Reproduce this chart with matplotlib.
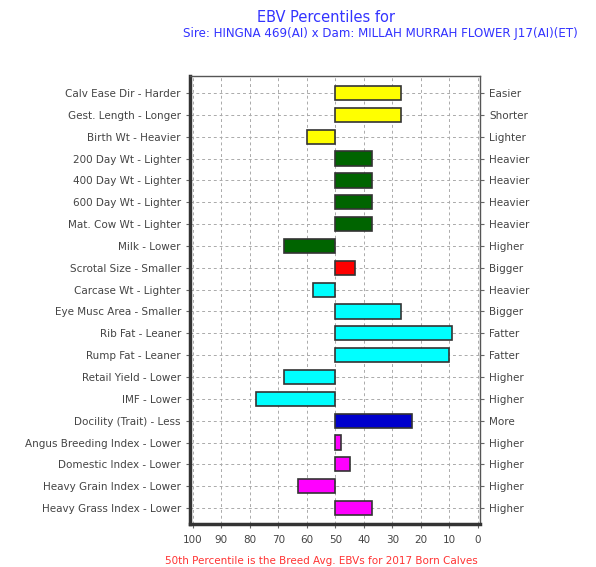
import numpy as np
import matplotlib.pyplot as plt

# Traits (top to bottom), percentile values and colours
traits = ["Calv Ease Dir - Harder", "Gest. Length - Longer", "Birth Wt - Heavier",
          "200 Day Wt - Lighter", "400 Day Wt - Lighter", "600 Day Wt - Lighter",
          "Mat. Cow Wt - Lighter", "Milk - Lower", "Scrotal Size - Smaller",
          "Carcase Wt - Lighter", "Eye Musc Area - Smaller", "Rib Fat - Leaner",
          "Rump Fat - Leaner", "Retail Yield - Lower", "IMF - Lower",
          "Docility (Trait) - Less", "Angus Breeding Index - Lower",
          "Domestic Index - Lower", "Heavy Grain Index - Lower",
          "Heavy Grass Index - Lower"]
right_labels = ["Easier", "Shorter", "Lighter", "Heavier", "Heavier", "Heavier",
                "Heavier", "Higher", "Bigger", "Heavier", "Bigger", "Fatter",
                "Fatter", "Higher", "Higher", "More", "Higher", "Higher",
                "Higher", "Higher"]
percentiles = [27, 27, 60, 37, 37, 37, 37, 68, 43, 58, 27, 9, 10, 68, 78,
               23, 48, 45, 63, 37]
colors = ["#ffff00", "#ffff00", "#ffff00",
          "#006400", "#006400", "#006400", "#006400", "#006400",
          "#ff0000",
          "#00ffff", "#00ffff", "#00ffff", "#00ffff", "#00ffff", "#00ffff",
          "#0000cc",
          "#ff00ff", "#ff00ff", "#ff00ff", "#ff00ff"]
xticks = [100, 90, 80, 70, 60, 50, 40, 30, 20, 10, 0]

fig = plt.figure(figsize=(5.96, 5.67), dpi=100)
ax = fig.add_axes([190 / 596, 43 / 567, 290 / 596, 448 / 567])

y = np.arange(len(traits))
widths = np.array(percentiles) - 50
ax.barh(y, widths, left=50, height=0.65, color=colors, edgecolor="#333333",
        linewidth=1.2, zorder=3)

ax.set_xlim(101, -0.7)
ax.set_ylim(19.73, -0.78)
ax.set_xticks(xticks)
ax.set_xticklabels([str(t) for t in xticks], fontsize=7.5, color="#444444")
ax.set_yticks(y)
ax.set_yticklabels(traits, fontsize=7.5, color="#444444")
ax.tick_params(axis="both", length=3, color="#666666")
ax.tick_params(axis="x", pad=5)
ax.grid(True, color="#aaaaaa", linestyle=(0, (3, 3)), linewidth=0.7, zorder=0)

for side in ["left", "bottom"]:
    ax.spines[side].set_linewidth(2.5)
    ax.spines[side].set_color("#333333")
for side in ["right", "top"]:
    ax.spines[side].set_linewidth(1)
    ax.spines[side].set_color("#555555")

ax2 = ax.twinx()
ax2.set_ylim(ax.get_ylim())
ax2.set_yticks(y)
ax2.set_yticklabels(right_labels, fontsize=7.5, color="#444444")
ax2.tick_params(axis="y", length=3, color="#666666")
for s in ax2.spines.values():
    s.set_visible(False)

fig.text(257 / 596, 1 - 17 / 567, "EBV Percentiles for", color="#3333ff",
         fontsize=10.5, ha="left", va="center")
fig.text(183 / 596, 1 - 34 / 567,
         "Sire: HINGNA 469(AI) x Dam: MILLAH MURRAH FLOWER J17(AI)(ET)",
         color="#3333ff", fontsize=8.6, ha="left", va="center")
fig.text(165 / 596, 1 - 561 / 567,
         "50th Percentile is the Breed Avg. EBVs for 2017 Born Calves",
         color="#ff3333", fontsize=7.5, ha="left", va="center")

fig.savefig("out.png", dpi=100)
